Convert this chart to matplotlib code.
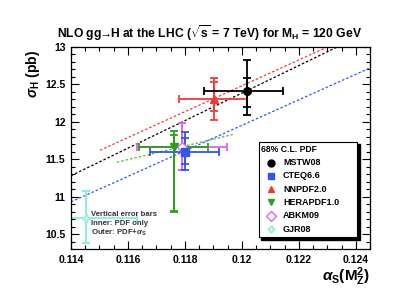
import matplotlib
matplotlib.use("Agg")
import matplotlib.pyplot as plt
from matplotlib.ticker import MultipleLocator, FuncFormatter
from matplotlib.lines import Line2D
from matplotlib.patches import Rectangle

plt.rcParams['font.family'] = ['Liberation Sans', 'DejaVu Sans']
plt.rcParams['font.weight'] = 'bold'
plt.rcParams['mathtext.fontset'] = 'custom'
plt.rcParams['mathtext.rm'] = 'Liberation Sans:bold'
plt.rcParams['mathtext.it'] = 'Liberation Sans:bold:italic'
plt.rcParams['mathtext.bf'] = 'Liberation Sans:bold'
plt.rcParams['mathtext.sf'] = 'Liberation Sans:bold'

# ---- data ----
pdf_names = ['MSTW08', 'CTEQ6.6', 'NNPDF2.0', 'HERAPDF1.0', 'ABKM09', 'GJR08']
colors = ['#000000', '#3355EE', '#F03A3A', '#2E9E1E', '#DD66EE', '#88EEDD']
markers = ['o', 's', '^', 'v', 'D', 'P']
alphas = [0.12018, 0.11801, 0.11903, 0.11762, 0.11791, 0.11453]
alphas_lo = [0.11867, 0.11678, 0.11780, 0.11639, 0.11632, 0.11274]
alphas_hi = [0.12143, 0.11920, 0.12018, 0.11882, 0.11948, 0.11632]
sigma = [12.41, 11.59, 12.30, 11.66, 11.665, 10.71]
outer_lo = [12.09, 11.35, 12.02, 10.79, 11.35, 10.38]
outer_hi = [12.82, 11.87, 12.59, 11.875, 11.98, 11.07]
inner_lo = [12.20, 11.43, 12.14, 10.81, 11.35, 10.38]
inner_hi = [12.58, 11.78, 12.53, 11.83, 11.98, 11.07]

# dependence of sigma on alpha_s (dashed lines)
mstw_line_a = [0.114, 0.12335]
mstw_line_s = [11.28, 13.0]
nnpdf_line_a = [0.11502, 0.1230]
nnpdf_line_s = [11.62, 13.0]
hera_line_a = [0.11561, 0.11968]
hera_line_s = [11.46, 11.83]
cteq_line_a = [0.114, 0.1245]
cteq_line_s = [10.93, 12.72]

W, H = 399, 308
fig = plt.figure(figsize=(W / 100, H / 100), dpi=100)
ax = fig.add_axes([71 / W, 1 - 249 / H, (370 - 71) / W, (249 - 47) / H])
ax.set_xlim(0.114, 0.1245)
ax.set_ylim(10.3, 13.0)

dash = (0, (2.0, 1.6))
ax.plot(mstw_line_a, mstw_line_s, color=colors[0], lw=0.9, ls=dash)
ax.plot(nnpdf_line_a, nnpdf_line_s, color=colors[2], lw=0.9, ls=dash)
ax.plot(hera_line_a, hera_line_s, color='#55BB33', lw=0.9, ls=dash)
ax.plot(cteq_line_a, cteq_line_s, color=colors[1], lw=0.9, ls=dash)

order = [5, 4, 3, 1, 2, 0]
for i in order:
    c = colors[i]
    xe = [[alphas[i] - alphas_lo[i]], [alphas_hi[i] - alphas[i]]]
    ye = [[sigma[i] - outer_lo[i]], [outer_hi[i] - sigma[i]]]
    eb = ax.errorbar([alphas[i]], [sigma[i]], xerr=xe, yerr=ye, fmt='none',
                     ecolor=c, elinewidth=1.3, capsize=2.6, capthick=1.3)
    for a in eb.get_children():
        a.set_clip_on(True)
        a.set_clip_box(ax.bbox)
    yi = [[sigma[i] - inner_lo[i]], [inner_hi[i] - sigma[i]]]
    eb2 = ax.errorbar([alphas[i]], [sigma[i]], yerr=yi, fmt='none',
                      ecolor=c, elinewidth=1.3, capsize=2.6, capthick=1.3)
    for a in eb2.get_children():
        a.set_clip_on(True)
        a.set_clip_box(ax.bbox)
    open_m = markers[i] in ('D', 'P')
    ax.plot([alphas[i]], [sigma[i]], marker=markers[i], ms=5.5,
            color=c, mfc='white' if open_m else c, mec=c, mew=1.0, ls='none', zorder=5)

ax.xaxis.set_major_locator(MultipleLocator(0.002))
ax.xaxis.set_minor_locator(MultipleLocator(0.0005))
ax.yaxis.set_major_locator(MultipleLocator(0.5))
ax.yaxis.set_minor_locator(MultipleLocator(0.1))
ax.xaxis.set_major_formatter(FuncFormatter(lambda v, p: ('%.3f' % v).rstrip('0').rstrip('.')))
ax.yaxis.set_major_formatter(FuncFormatter(lambda v, p: ('%.1f' % v).rstrip('0').rstrip('.')))
ax.tick_params(which='both', direction='in', top=True, right=True, width=0.8,
               labelsize=7.5, colors='black')
ax.tick_params(which='major', length=6, pad=4)
ax.tick_params(which='minor', length=3)
for lab in ax.get_xticklabels() + ax.get_yticklabels():
    lab.set_fontweight('bold')
for s in ax.spines.values():
    s.set_linewidth(0.9)

fig.text(210 / W, 1 - 33 / H,
         r'NLO gg$\!\!\rightarrow\!\!$H at the LHC ($\sqrt{\rm s}$ = 7 TeV) for M$_{\rm H}$ = 120 GeV',
         ha='center', va='center', fontsize=8.7, fontweight='bold')
fig.text(33 / W, 1 - 50 / H, r'$\sigma_{\rm H}$ (pb)', rotation=90, ha='center', va='top',
         fontsize=10, fontweight='bold')
fig.text(370 / W, 1 - 277 / H, r'$\alpha_{\rm S}$(M$_{\rm Z}^{2}$)', ha='right', va='center',
         fontsize=11, fontweight='bold')

for k, t in enumerate(['Vertical error bars', 'Inner: PDF only', r'Outer: PDF+$\alpha_{\rm S}$']):
    fig.text(91 / W, 1 - (215 + 8.7 * k) / H, t, ha='left', va='center',
             fontsize=5.6, fontweight='bold', color='#333333')

# legend box
lx0, lx1, ly0, ly1 = 258.7, 357, 142, 237
fig.patches.append(Rectangle(((lx0 + 2.5) / W, 1 - (ly1 + 2.5) / H), (lx1 - lx0) / W,
                             (ly1 - ly0) / H, transform=fig.transFigure,
                             facecolor='black', edgecolor='black', zorder=10))
fig.patches.append(Rectangle((lx0 / W, 1 - ly1 / H), (lx1 - lx0) / W, (ly1 - ly0) / H,
                             transform=fig.transFigure, facecolor='white',
                             edgecolor='black', lw=0.8, zorder=11))
fig.text((lx0 + 2) / W, 1 - 149 / H, '68% C.L. PDF', ha='left', va='center',
         fontsize=6.2, fontweight='bold', zorder=12)
row_y = [162.7, 175.7, 189, 202.3, 215.7, 229]
for i in range(len(pdf_names)):
    yy = 1 - row_y[i] / H
    open_m = markers[i] in ('D', 'P')
    fig.add_artist(Line2D([270.7 / W], [yy], marker=markers[i], ms=5, color=colors[i],
                          mfc='white' if open_m else colors[i], mec=colors[i], mew=1.0,
                          ls='none', transform=fig.transFigure, zorder=12))
    fig.text(283 / W, yy, pdf_names[i], ha='left', va='center', fontsize=6.5,
             fontweight='bold', zorder=12)

fig.savefig('out.png', dpi=100)
